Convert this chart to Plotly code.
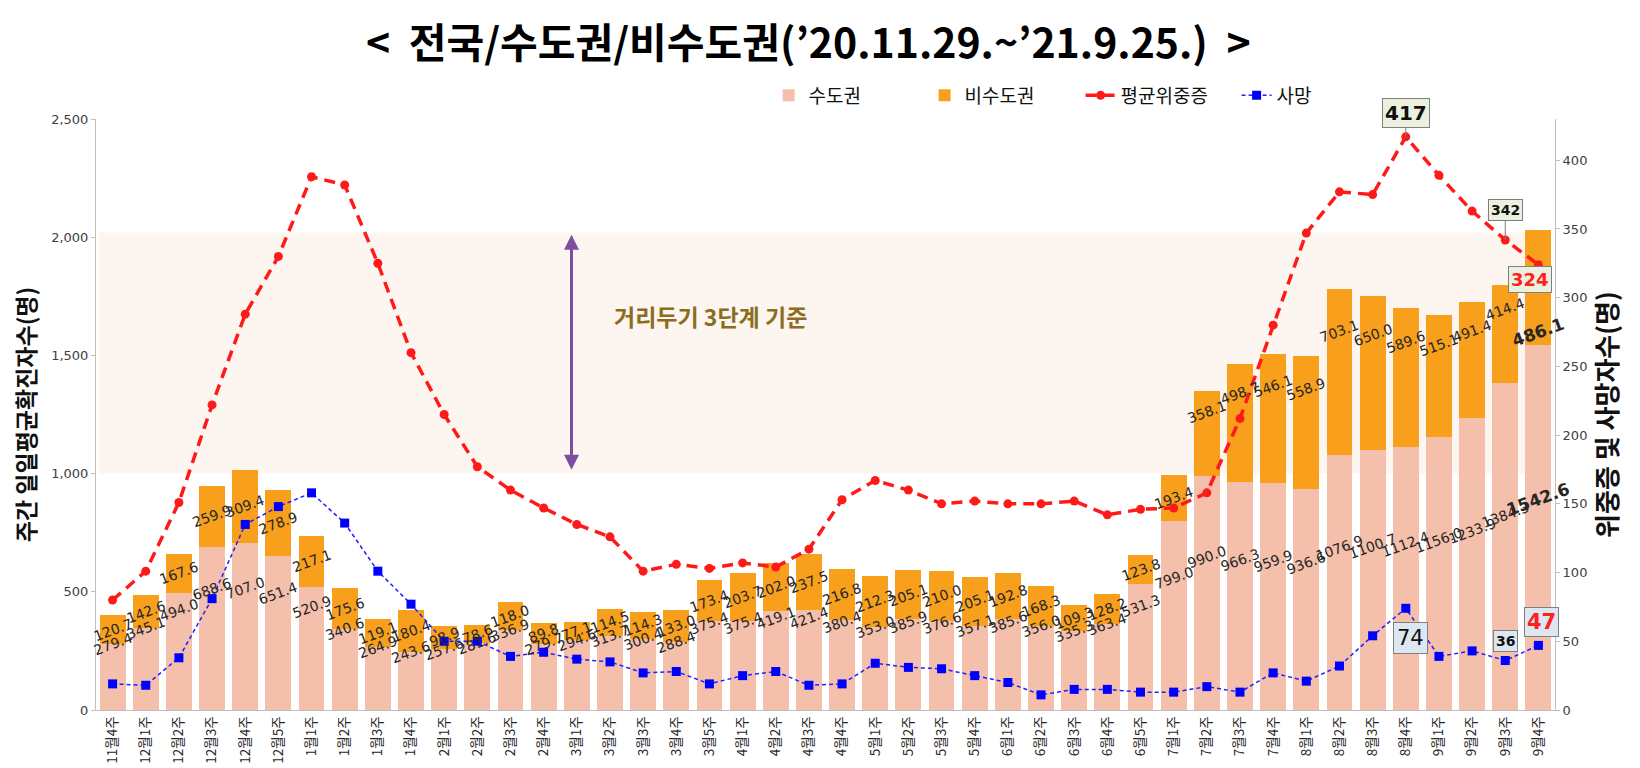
import plotly.graph_objects as go

weeks = ["11월4주", "12월1주", "12월2주", "12월3주", "12월4주", "12월5주",
         "1월1주", "1월2주", "1월3주", "1월4주", "2월1주", "2월2주", "2월3주", "2월4주",
         "3월1주", "3월2주", "3월3주", "3월4주", "3월5주", "4월1주", "4월2주", "4월3주", "4월4주",
         "5월1주", "5월2주", "5월3주", "5월4주", "6월1주", "6월2주", "6월3주", "6월4주", "6월5주",
         "7월1주", "7월2주", "7월3주", "7월4주", "8월1주", "8월2주", "8월3주", "8월4주",
         "9월1주", "9월2주", "9월3주", "9월4주"]

capital = [279.4, 345.1, 494.0, 688.6, 707.0, 651.4, 520.9, 340.6, 264.9, 243.6,
           257.6, 281.6, 336.9, 279.7, 294.6, 313.7, 300.4, 288.4, 375.4, 375.4,
           419.1, 421.4, 380.4, 353.0, 385.9, 376.6, 357.1, 385.6, 356.0, 335.3,
           363.4, 531.3, 799.0, 990.0, 966.3, 959.9, 936.6, 1076.9, 1100.7, 1112.4,
           1156.0, 1233.9, 1384.3, 1542.6]

non_capital = [120.7, 142.6, 167.6, 259.9, 309.4, 278.9, 217.1, 175.6, 119.1, 180.4,
               98.9, 78.6, 118.0, 89.8, 77.1, 114.5, 114.3, 133.0, 173.4, 203.7,
               202.0, 237.5, 216.8, 212.3, 205.1, 210.0, 205.1, 192.8, 168.3, 109.3,
               128.2, 123.8, 193.4, 358.1, 498.7, 546.1, 558.9, 703.1, 650.0, 589.6,
               515.1, 491.4, 414.4, 486.1]

severe = [80, 101, 151, 222, 288, 330, 388, 382, 325, 260,
          215, 177, 160, 147, 135, 126, 101, 106, 103, 107,
          104, 117, 153, 167, 160, 150, 152, 150, 150, 152,
          142, 146, 147, 158, 212, 280, 347, 377, 375, 417,
          389, 363, 342, 324]

deaths = [19, 18, 38, 81, 135, 148, 158, 136, 101, 77,
          50, 50, 39, 42, 37, 35, 27, 28, 19, 25,
          28, 18, 19, 34, 31, 30, 25, 20, 11, 15,
          15, 13, 13, 17, 13, 27, 21, 32, 54, 74,
          39, 43, 36, 47]

NUM_FONT = "DejaVu Sans, Noto Sans CJK KR"
KR_FONT = "Noto Sans CJK KR, DejaVu Sans"

fig = go.Figure()
fig.add_trace(go.Bar(x=weeks, y=capital, name="수도권", marker_color="#f4bfab",
                     marker_line_width=0))
fig.add_trace(go.Bar(x=weeks, y=non_capital, name="비수도권", marker_color="#f8a01c",
                     marker_line_width=0))
fig.add_trace(go.Scatter(x=weeks, y=severe, name="평균위중증", yaxis="y2",
                         mode="lines+markers",
                         line=dict(color="#ff1a1a", width=3.5, dash="11px,7px"),
                         marker=dict(symbol="circle", size=9, color="#ff1a1a")))
fig.add_trace(go.Scatter(x=weeks, y=deaths, name="사망", yaxis="y2",
                         mode="lines+markers",
                         line=dict(color="#2020ff", width=1.5, dash="4px,3px"),
                         marker=dict(symbol="square", size=9, color="#0000ff")))

annotations = []
n = len(weeks)
for i, (w, c, nc) in enumerate(zip(weeks, capital, non_capital)):
    last = (i == n - 1)
    fnt = dict(family=NUM_FONT, size=17 if last else 14, color="#262626")
    cy = min(c, 0.45 * c + 200)
    annotations.append(dict(x=w, y=cy, xref="x", yref="y",
                            text=(f"<b>{c:.1f}</b>" if last else f"{c:.1f}"),
                            showarrow=False, textangle=-20, font=fnt))
    if last:
        frac = 0.12
    elif nc > 340:
        frac = 0.75
    else:
        frac = 0.5
    annotations.append(dict(x=w, y=c + nc * frac, xref="x", yref="y",
                            text=(f"<b>{nc:.1f}</b>" if last else f"{nc:.1f}"),
                            showarrow=False, textangle=-20, font=fnt))

# highlighted values
annotations += [
    dict(x=weeks[39], y=severe[39], xref="x", yref="y2", text=f"<b>{severe[39]}</b>",
         showarrow=True, arrowhead=0, arrowwidth=1, arrowcolor="#7f7f7f", ax=0, ay=-24,
         bgcolor="#ebf1de", bordercolor="#7f7f7f", borderwidth=1, borderpad=2,
         font=dict(family=NUM_FONT, size=20, color="#111111")),
    dict(x=weeks[42], y=severe[42], xref="x", yref="y2", text=f"<b>{severe[42]}</b>",
         showarrow=True, arrowhead=0, arrowwidth=1, arrowcolor="#7f7f7f", ax=0, ay=-30,
         bgcolor="#ebf1de", bordercolor="#7f7f7f", borderwidth=1, borderpad=2,
         font=dict(family=NUM_FONT, size=14, color="#111111")),
    dict(x=weeks[43], y=severe[43], xref="x", yref="y2", text=f"<b>{severe[43]}</b>",
         showarrow=False, xshift=-8, yshift=-15,
         bgcolor="#ebf1de", bordercolor="#7f7f7f", borderwidth=1, borderpad=2,
         font=dict(family=NUM_FONT, size=18, color="#ff2020")),
    dict(x=weeks[39], y=deaths[39], xref="x", yref="y2", text=f"{deaths[39]}",
         showarrow=False, xshift=5, yshift=-30,
         bgcolor="#dde7f2", bordercolor="#7f7f7f", borderwidth=1, borderpad=3,
         font=dict(family=NUM_FONT, size=21, color="#111111")),
    dict(x=weeks[42], y=deaths[42], xref="x", yref="y2", text=f"<b>{deaths[42]}</b>",
         showarrow=False, yshift=20,
         bgcolor="#dde7f2", bordercolor="#7f7f7f", borderwidth=1, borderpad=2,
         font=dict(family=NUM_FONT, size=14, color="#111111")),
    dict(x=weeks[43], y=deaths[43], xref="x", yref="y2", text=f"<b>{deaths[43]}</b>",
         showarrow=False, xshift=3, yshift=23,
         bgcolor="#dde7f2", bordercolor="#7f7f7f", borderwidth=1, borderpad=2,
         font=dict(family=NUM_FONT, size=21, color="#ff2020")),
]

# distancing level 3 band annotation
annotations += [
    dict(x=13.84, y=2010, ax=13.84, ay=1010, xref="x", yref="y", axref="x", ayref="y",
         text="", showarrow=True, arrowhead=2, arrowside="end+start", arrowsize=1,
         arrowwidth=3, arrowcolor="#7b4ea3"),
    dict(x=0.421, y=1668, xref="paper", yref="y", text="<b>거리두기 3단계 기준</b>",
         showarrow=False, font=dict(family=KR_FONT, size=23, color="#8b6d1f")),
]

fig.update_layout(
    width=1640, height=768,
    barmode="stack", bargap=0.22,
    paper_bgcolor="white", plot_bgcolor="white",
    margin=dict(l=88, r=93, t=111, b=55),
    title=dict(text="<b><  전국/수도권/비수도권(’20.11.29.~’21.9.25.)  ></b>",
               x=0.488, xref="container", xanchor="center",
               y=0.953, yref="container", yanchor="middle",
               font=dict(family=KR_FONT, size=41, color="#000000")),
    legend=dict(orientation="h", x=0.461, xanchor="left", y=1.04, yanchor="middle",
                font=dict(family=KR_FONT, size=19, color="#111111"),
                entrywidth=111, traceorder="normal", bgcolor="rgba(0,0,0,0)"),
    xaxis=dict(type="category", range=[-0.5, len(weeks) - 0.5], autorange=False,
               tickangle=-90, showgrid=False,
               showline=True, linecolor="#bfbfbf", ticks="",
               tickfont=dict(family=KR_FONT, size=13.5, color="#262626")),
    yaxis=dict(range=[0, 2500], autorange=False, dtick=500, tickformat=",", showgrid=False,
               zeroline=False,
               showline=True, linecolor="#bfbfbf", ticks="outside", ticklen=4, tickcolor="#bfbfbf",
               tickfont=dict(family=NUM_FONT, size=13, color="#404040"),
               title=dict(text="<b>주간 일일평균확진자수(명)</b>", standoff=10,
                          font=dict(family=KR_FONT, size=23, color="#111111"))),
    yaxis2=dict(range=[0, 430], autorange=False, dtick=50, overlaying="y", side="right",
                showgrid=False,
                zeroline=False, showline=True, linecolor="#bfbfbf", ticks="outside",
                ticklen=4, tickcolor="#bfbfbf",
                tickfont=dict(family=NUM_FONT, size=13, color="#404040"),
                title=dict(text="<b>위중증 및 사망자수(명)</b>", standoff=10,
                           font=dict(family=KR_FONT, size=26, color="#111111"))),
    shapes=[dict(type="rect", xref="paper", yref="y", x0=0.002, x1=0.995, y0=1000, y1=2020,
                 fillcolor="#fdf5ef", line=dict(width=0), layer="below")],
    annotations=annotations,
)

fig.write_html("out.html")
